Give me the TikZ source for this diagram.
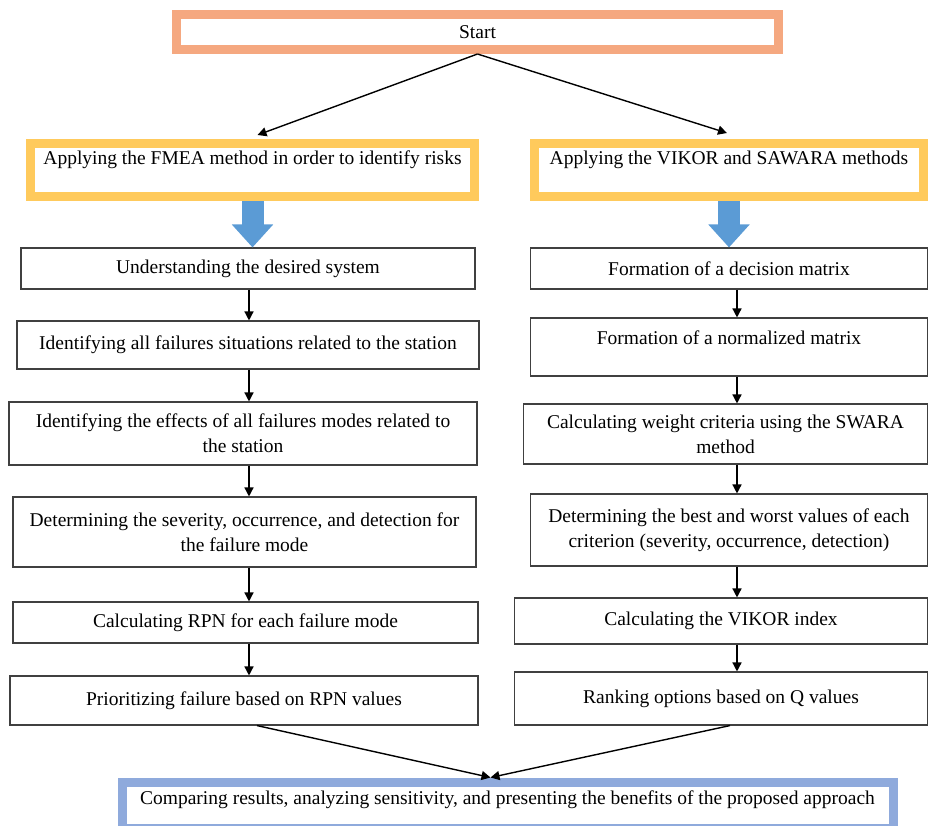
\documentclass[tikz,border=0pt]{standalone}
\usepackage{fontspec}
\setmainfont{Liberation Serif}
\usetikzlibrary{arrows.meta}

\definecolor{startorange}{RGB}{245,168,128}
\definecolor{headyellow}{RGB}{255,202,92}
\definecolor{endblue}{RGB}{143,170,220}
\definecolor{arrowblue}{RGB}{91,155,213}

\newcommand{\flowfont}{\fontsize{19.5}{25}\selectfont}

\tikzset{
  stepbox/.style={draw=black!75, line width=1.1pt, fill=white, inner sep=0pt, align=center, font=\flowfont},
  framebox/.style={draw=#1, line width=9pt, fill=white, inner sep=0pt, align=center, font=\flowfont},
  flow/.style={line width=1.4pt, -{Triangle[width=9pt,length=9pt]}},
  bigflow/.style={line width=22pt, arrowblue, -{Triangle[width=40pt,length=23pt]}}
}

\begin{document}
\begin{tikzpicture}[x=1pt,y=-1pt]
\useasboundingbox (0,0) rectangle (928,825);

% start and the two method headers
\node[framebox=startorange, minimum width=602pt, minimum height=35pt] (start) at (477.5,32) {Start};
\node[framebox=headyellow, minimum width=444pt, minimum height=53pt, text depth=24pt] (fmea) at (252.5,170) {Applying the FMEA method in order to identify risks};
\node[framebox=headyellow, minimum width=389pt, minimum height=53pt, text depth=24pt] (vikor) at (729,170) {Applying the VIKOR and SAWARA methods};

% FMEA column
\node[stepbox, minimum width=454pt, minimum height=41pt] (f1) at (248,268.5) {Understanding the desired system};
\node[stepbox, minimum width=462pt, minimum height=48pt] (f2) at (248,345) {Identifying all failures situations related to the station};
\node[stepbox, minimum width=468pt, minimum height=63pt] (f3) at (243,433.5) {Identifying the effects of all failures modes related to\\the station};
\node[stepbox, minimum width=463pt, minimum height=70pt] (f4) at (244.5,532) {Determining the severity, occurrence, and detection for\\the failure mode};
\node[stepbox, minimum width=465pt, minimum height=41pt] (f5) at (245.5,622.5) {Calculating RPN for each failure mode};
\node[stepbox, minimum width=468pt, minimum height=49pt] (f6) at (244,700.5) {Prioritizing failure based on RPN values};

% VIKOR column
\node[stepbox, minimum width=397pt, minimum height=41pt] (v1) at (729,268.5) {Formation of a decision matrix};
\node[stepbox, minimum width=397pt, minimum height=58pt, text depth=18pt] (v2) at (729,347) {Formation of a normalized matrix};
\node[stepbox, minimum width=404pt, minimum height=60pt] (v3) at (725.5,434) {Calculating weight criteria using the SWARA\\method};
\node[stepbox, minimum width=397pt, minimum height=72pt] (v4) at (729,530) {Determining the best and worst values of each\\criterion (severity, occurrence, detection)};
\node[stepbox, minimum width=413pt, minimum height=46pt] (v5) at (721,621) {Calculating the VIKOR index};
\node[stepbox, minimum width=413pt, minimum height=53pt] (v6) at (721,698.5) {Ranking options based on Q values};

% final step
\node[framebox=endblue, minimum width=771pt, minimum height=46pt, text depth=14pt] (final) at (507.5,805) {Comparing results, analyzing sensitivity, and presenting the benefits of the proposed approach};

% connectors
\coordinate (fx) at (249,0);
\coordinate (vx) at (737,0);
\draw[flow] (start.south) -- ([xshift=5pt,yshift=4pt]fmea.north);
\draw[flow] (start.south) -- ([xshift=-2pt,yshift=6pt]vikor.north);
\draw[bigflow] (fmea.south) -- (fmea.south |- f1.north);
\draw[bigflow] (vikor.south) -- (vikor.south |- v1.north);
\foreach \a/\b/\c in {f1/f2/fx,f2/f3/fx,f3/f4/fx,f4/f5/fx,f5/f6/fx,v1/v2/vx,v2/v3/vx,v3/v4/vx,v4/v5/vx,v5/v6/vx}
  \draw[flow] (\a.south -| \c) -- (\b.north -| \c);
\coordinate (meet) at ([xshift=-17pt]final.north);
\draw[flow] ([xshift=13pt]f6.south) -- (meet);
\draw[flow] ([xshift=9pt]v6.south) -- (meet);

\end{tikzpicture}
\end{document}
